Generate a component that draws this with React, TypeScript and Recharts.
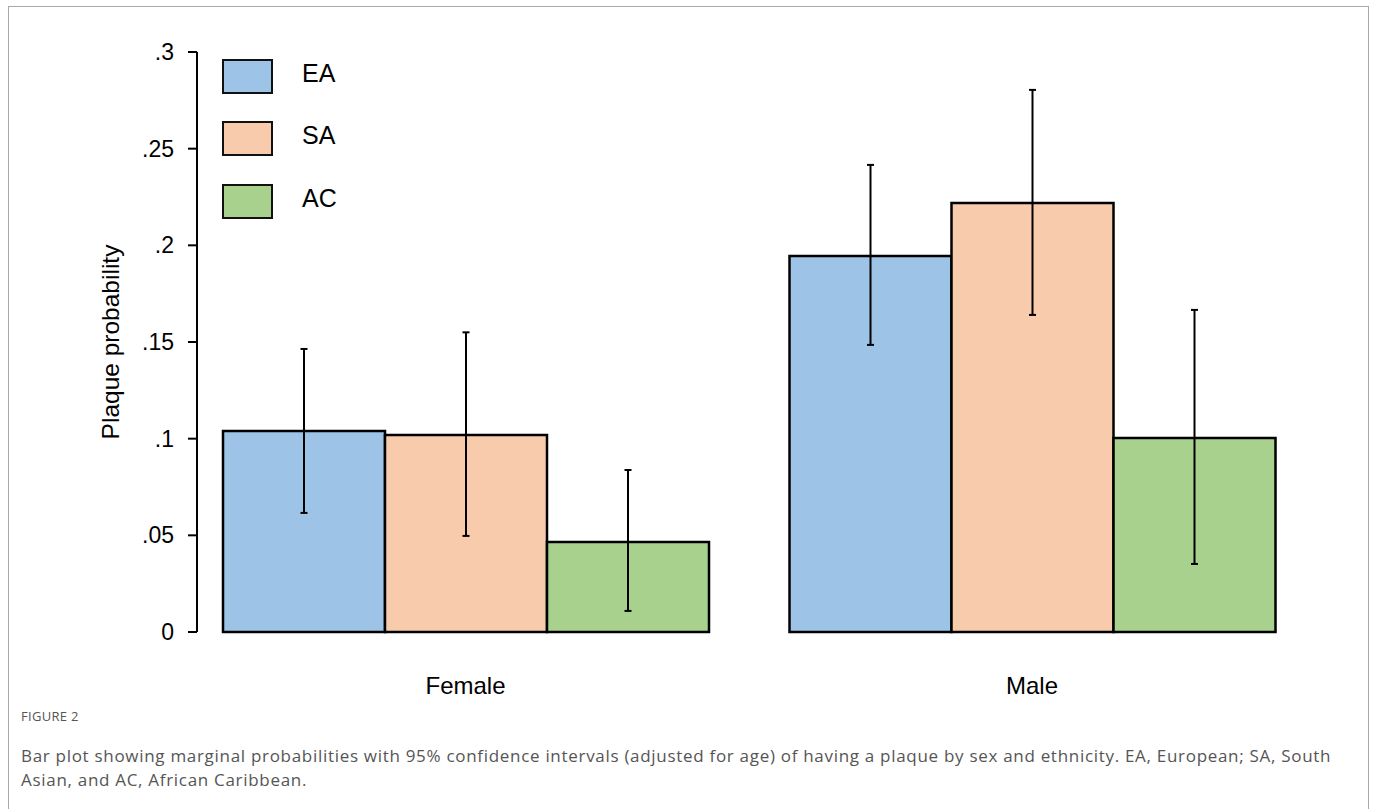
import { BarChart, Bar, XAxis, YAxis, ErrorBar, Legend } from 'recharts'

const categories = ['Female', 'Male']
const seriesNames = ['EA', 'SA', 'AC']
const seriesColors = ['#9dc3e6', '#f8cbad', '#a9d18e']

// marginal probabilities and 95% CI bounds
const eaValues = [0.104, 0.1945]
const eaLower = [0.0616, 0.1485]
const eaUpper = [0.1464, 0.2416]

const saValues = [0.1019, 0.2219]
const saLower = [0.0497, 0.164]
const saUpper = [0.155, 0.2804]

const acValues = [0.0466, 0.1004]
const acLower = [0.0109, 0.0352]
const acUpper = [0.0838, 0.1666]

const yTicks = [0, 0.05, 0.1, 0.15, 0.2, 0.25, 0.3]

const seriesValues = [eaValues, saValues, acValues]
const seriesLower = [eaLower, saLower, acLower]
const seriesUpper = [eaUpper, saUpper, acUpper]

const chartData = categories.map((cat, i) => {
  const row: Record<string, any> = { category: cat }
  seriesNames.forEach((name, s) => {
    const v = seriesValues[s][i]
    row[name] = v
    // ErrorBar wants [below, above] offsets from the bar value
    row[name + 'Err'] = [v - seriesLower[s][i], seriesUpper[s][i] - v]
  })
  return row
})

const chartFont = '"Liberation Sans", Arial, sans-serif'

const formatTick = (v: number) => (v === 0 ? '0' : String(v).replace(/^0/, ''))

const renderLegend = () => (
  <div style={{ fontFamily: chartFont, color: '#000' }}>
    {seriesNames.map((name, i) => (
      <div key={name} style={{ display: 'flex', alignItems: 'center', height: 62.5 }}>
        <div
          style={{
            width: 51,
            height: 35,
            boxSizing: 'border-box',
            border: '2px solid #111',
            background: seriesColors[i],
          }}
        />
        <span style={{ marginLeft: 29, fontSize: 25, marginTop: -6 }}>{name}</span>
      </div>
    ))}
  </div>
)

function App() {
  return (
    <div
      style={{
        position: 'absolute',
        left: 8,
        top: 6,
        width: 1361,
        height: 803,
        borderTop: '1px solid #a8a8a8',
        borderLeft: '1px solid #a8a8a8',
        borderRight: '1px solid #a8a8a8',
        boxSizing: 'border-box',
        background: '#fff',
      }}
    >
      <div style={{ position: 'absolute', left: 0, top: 0 }}>
        <BarChart
          width={1358}
          height={720}
          data={chartData}
          margin={{ top: 45, right: 51.75, bottom: 15, left: 14 }}
          barCategoryGap={40.75}
          barGap={0}
          style={{ fontFamily: chartFont }}
        >
          <XAxis
            dataKey="category"
            axisLine={false}
            tickLine={false}
            tickSize={0}
            tickMargin={45}
            padding={{ left: -14.75, right: 0 }}
            tick={{ fill: '#000', fontSize: 24 }}
            height={80}
            interval={0}
          />
          <YAxis
            domain={[0, 0.3]}
            ticks={yTicks}
            tickFormatter={formatTick}
            width={174}
            axisLine={{ stroke: '#000', strokeWidth: 2 }}
            tickLine={{ stroke: '#000', strokeWidth: 2 }}
            tickSize={9}
            tickMargin={14}
            tick={{ fill: '#000', fontSize: 23 }}
            interval={0}
            label={{
              value: 'Plaque probability',
              angle: -90,
              position: 'center',
              fill: '#000',
              fontSize: 24.5,
            }}
          />
          <Legend
            layout="vertical"
            align="center"
            verticalAlign="middle"
            content={renderLegend}
            wrapperStyle={{ left: 213, top: 38, width: 'auto', height: 'auto' }}
          />
          {seriesNames.map((name, i) => (
            <Bar
              key={name}
              dataKey={name}
              fill={seriesColors[i]}
              stroke="#000"
              strokeWidth={2.5}
              isAnimationActive={false}
            >
              <ErrorBar
                dataKey={name + 'Err'}
                direction="y"
                width={3.5}
                stroke="#000"
                strokeWidth={2}
                isAnimationActive={false}
              />
            </Bar>
          ))}
        </BarChart>
      </div>
      <div
        style={{
          position: 'absolute',
          left: 12,
          top: 701,
          fontFamily: '"Open Sans", sans-serif',
          color: '#555',
        }}
      >
        <div style={{ fontSize: 13, lineHeight: '16px', letterSpacing: 0.3 }}>FIGURE 2</div>
        <div style={{ fontSize: 17, lineHeight: '24px', marginTop: 20, letterSpacing: 0.7 }}>
          Bar plot showing marginal probabilities with 95% confidence intervals (adjusted for age) of having a
          plaque by sex and ethnicity. EA, European; SA, South
          <br />
          Asian, and AC, African Caribbean.
        </div>
      </div>
    </div>
  )
}

export default App
